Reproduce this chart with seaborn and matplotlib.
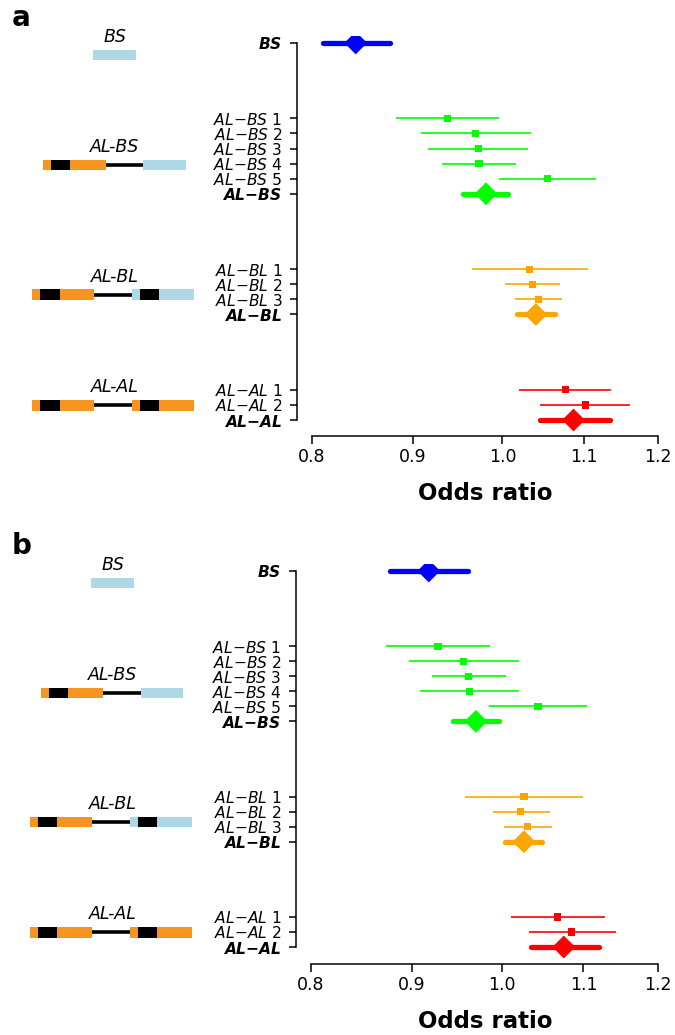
import numpy as np
import pandas as pd
import matplotlib
matplotlib.use("Agg")
import matplotlib.pyplot as plt
import matplotlib.transforms as mtransforms
from matplotlib.patches import Rectangle
import seaborn as sns

sns.set_theme(style="white")
plt.rcParams["font.family"] = ["DejaVu Sans"]
plt.rcParams["mathtext.fontset"] = "dejavusans"

# ---------------------------------------------------------------- data
row_labels = ["BS",
              "AL-BS 1", "AL-BS 2", "AL-BS 3", "AL-BS 4", "AL-BS 5", "AL-BS",
              "AL-BL 1", "AL-BL 2", "AL-BL 3", "AL-BL",
              "AL-AL 1", "AL-AL 2", "AL-AL"]
row_groups = ["BS",
              "AL-BS", "AL-BS", "AL-BS", "AL-BS", "AL-BS", "AL-BS",
              "AL-BL", "AL-BL", "AL-BL", "AL-BL",
              "AL-AL", "AL-AL", "AL-AL"]
row_kinds = ["summary",
             "study", "study", "study", "study", "study", "summary",
             "study", "study", "study", "summary",
             "study", "study", "summary"]

# panel a
or_a = [0.842, 0.938, 0.969, 0.972, 0.973, 1.054, 0.981,
        1.032, 1.036, 1.043, 1.040, 1.077, 1.102, 1.087]
lo_a = [0.810, 0.883, 0.909, 0.917, 0.932, 0.996, 0.955,
        0.965, 1.003, 1.015, 1.017, 1.020, 1.045, 1.045]
hi_a = [0.877, 0.996, 1.034, 1.030, 1.016, 1.116, 1.007,
        1.105, 1.070, 1.072, 1.063, 1.136, 1.162, 1.134]

# panel b
or_b = [0.918, 0.928, 0.956, 0.962, 0.963, 1.043, 0.970,
        1.026, 1.022, 1.030, 1.026, 1.067, 1.085, 1.075]
lo_b = [0.877, 0.873, 0.897, 0.921, 0.909, 0.985, 0.944,
        0.958, 0.990, 1.002, 1.004, 1.011, 1.032, 1.035]
hi_b = [0.961, 0.986, 1.020, 1.005, 1.020, 1.105, 0.996,
        1.100, 1.058, 1.060, 1.048, 1.128, 1.142, 1.120]

x_ticks = [0.8, 0.9, 1.0, 1.1, 1.2]
x_tick_labels = ["0.8", "0.9", "1.0", "1.1", "1.2"]

group_colors = {"BS": "#0000FF", "AL-BS": "#00FF00",
                "AL-BL": "#FFA500", "AL-AL": "#FF0000"}

# construct sketches (x extents in figure pixels)
SK_ORANGE = "#F7941E"
SK_BLUE = "#ADD8E6"
SK_BLACK = "#000000"
sketches = {
    "BS": [("box", 93, 136, SK_BLUE)],
    "AL-BS": [("link", 104, 145, None),
              ("box", 43, 105.7, SK_ORANGE), ("box", 51, 70.3, SK_BLACK),
              ("box", 143, 185.7, SK_BLUE)],
    "AL-BL": [("link", 93, 134, None),
              ("box", 32.3, 94.3, SK_ORANGE), ("box", 40.3, 59.7, SK_BLACK),
              ("box", 132.3, 194.3, SK_BLUE), ("box", 140, 159.3, SK_BLACK)],
    "AL-AL": [("link", 93, 134, None),
              ("box", 32.3, 94.3, SK_ORANGE), ("box", 40.3, 59.7, SK_BLACK),
              ("box", 132.3, 194.3, SK_ORANGE), ("box", 140, 159.3, SK_BLACK)],
}
sketch_rows = {"BS": 0.8, "AL-BS": 8.1, "AL-BL": 16.68, "AL-AL": 24.02}

# ---------------------------------------------------------------- layout
W, H = 675, 1035
fig = plt.figure(figsize=(W / 100, H / 100), dpi=100)
px = mtransforms.Affine2D().scale(1 / W, 1 / H) + fig.transFigure


def row_positions(groups):
    pos, r, prev = [], 0, None
    for g in groups:
        if prev is not None:
            r += 1 if g == prev else 5
        pos.append(r)
        prev = g
    return pos


def tick_text(label, kind):
    parts = label.split(" ")
    name = parts[0].replace("-", "{-}")
    if kind == "summary":
        return r"$\mathbfit{" + name + "}$"
    return r"$\mathit{" + name + r"}\ " + parts[1] + "$"


def forest(ax, ors, los, his, sk_dx, label_x):
    rows = row_positions(row_groups)
    df = pd.DataFrame({"label": row_labels, "group": row_groups,
                       "kind": row_kinds, "OR": ors, "lo": los, "hi": his,
                       "row": rows})

    ax.set_xscale("log")
    # confidence intervals
    for _, r in df.iterrows():
        col = group_colors[r["group"]]
        if r["kind"] == "summary":
            ax.plot([r["lo"], r["hi"]], [r["row"], r["row"]], color=col,
                    lw=3.8, solid_capstyle="round", zorder=2)
        else:
            ax.plot([r["lo"], r["hi"]], [r["row"], r["row"]], color=col,
                    lw=1.2, solid_capstyle="butt", zorder=2)
    # point estimates
    sns.scatterplot(data=df, x="OR", y="row", hue="group",
                    palette=group_colors, style="kind",
                    markers={"study": "s", "summary": "D"},
                    size="kind", sizes={"study": 27, "summary": 135},
                    linewidth=0, legend=False, ax=ax, zorder=3)

    ax.set_xlim(0.786, 1.210)
    ax.set_autoscale_on(False)
    ax.set_xticks(x_ticks)
    ax.set_xticklabels(x_tick_labels)
    ax.xaxis.set_minor_locator(matplotlib.ticker.NullLocator())
    ax.set_yticks(df["row"])
    ax.set_yticklabels([tick_text(l, k) for l, k in zip(df["label"], df["kind"])])
    ax.set_xlabel("")
    ax.set_ylabel("")
    for s in ["top", "right"]:
        ax.spines[s].set_visible(False)
    for s in ["left", "bottom"]:
        ax.spines[s].set_color("black")
        ax.spines[s].set_linewidth(1.1)
    ax.spines["left"].set_bounds(df["row"].min(), df["row"].max())
    ax.spines["bottom"].set_bounds(x_ticks[0], x_ticks[-1])
    ax.tick_params(axis="y", direction="out", length=5, width=1.1,
                   color="black", labelsize=11.2, pad=5.5, left=True,
                   labelcolor="black")
    ax.tick_params(axis="x", direction="out", length=5.5, width=1.1,
                   color="black", labelsize=12.5, pad=3, bottom=True,
                   labelcolor="black")
    ax.grid(False)

    # construct sketches beside each group
    tr = mtransforms.blended_transform_factory(px, ax.transData)
    for g, parts in sketches.items():
        yc = sketch_rows[g]
        for kind, x0, x1, col in parts:
            if kind == "link":
                ax.plot([x0 + sk_dx, x1 + sk_dx], [yc, yc], color="black",
                        lw=2.6, transform=tr, clip_on=False, zorder=1)
            else:
                ax.add_patch(Rectangle((x0 + sk_dx, yc - 0.35), x1 - x0, 0.7,
                                       facecolor=col, edgecolor="none",
                                       transform=tr, clip_on=False, zorder=2))
        ax.text(label_x, yc - 0.85, g, transform=tr, ha="center",
                va="baseline", fontsize=12.5, fontstyle="italic",
                color="black", clip_on=False)


# panel a
ax_a = fig.add_axes([297 / W, 1 - 436 / H, (665 - 297) / W, 400 / H])
forest(ax_a, or_a, lo_a, hi_a, 0, 115)
ax_a.set_ylim(26.06, -0.46)

# panel b
ax_b = fig.add_axes([296 / W, 1 - 964 / H, (665 - 296) / W, 400 / H])
forest(ax_b, or_b, lo_b, hi_b, -2.3, 113)
ax_b.set_ylim(26.13, -0.465)

# axis titles and panel letters
for yb in (500, 1028):
    fig.text(485 / W, 1 - yb / H, "Odds ratio", ha="center", va="baseline",
             fontsize=16.5, fontweight="bold", color="black")
fig.text(12 / W, 1 - 26 / H, "a", ha="left", va="baseline",
         fontsize=20, fontweight="bold", color="black")
fig.text(12 / W, 1 - 554 / H, "b", ha="left", va="baseline",
         fontsize=20, fontweight="bold", color="black")

fig.savefig("out.png", dpi=100, facecolor="white")
